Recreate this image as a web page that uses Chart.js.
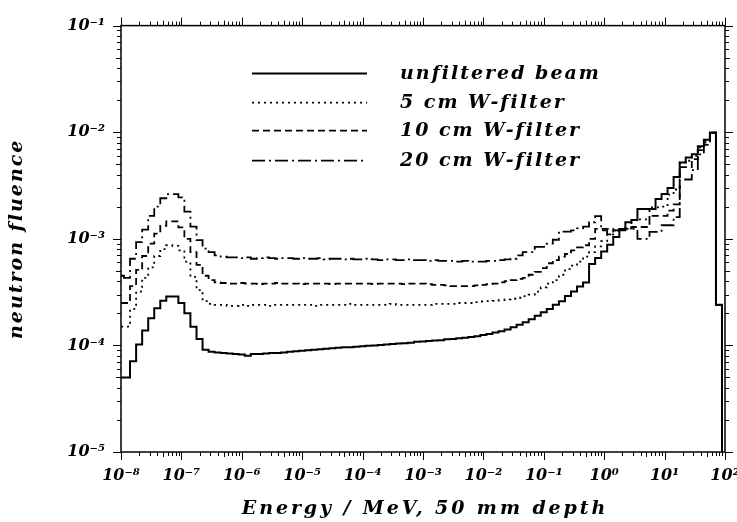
<!DOCTYPE html>
<html>
<head>
<meta charset="utf-8">
<script src="https://cdn.jsdelivr.net/npm/chart.js@4.4.1/dist/chart.umd.min.js"></script>
<style>
  html, body { margin: 0; padding: 0; background: #fff; }
  #wrap { width: 737px; height: 522px; }
</style>
</head>
<body>
<div id="wrap"><canvas id="fluence"></canvas></div>
<script>
// bin edges: 1e-8, then 10 edges per decade (mantissa x 10^d), then 1e2
var binMantissa = [1.12, 1.41, 1.78, 2.24, 2.82, 3.55, 4.47, 5.62, 7.08, 8.91];
var binDecades = [-8, -7, -6, -5, -4, -3, -2, -1, 0, 1];
var firstEdge = 1e-8;
var lastEdge = 1e2;

// decade tick labels
var xDecades = [-8, -7, -6, -5, -4, -3, -2, -1, 0, 1, 2];
var yDecades = [-5, -4, -3, -2, -1];

var seriesLabels = ['unfiltered beam', '5 cm W-filter', '10 cm W-filter', '20 cm W-filter'];
var xTitle = 'Energy / MeV, 50 mm depth';
var yTitle = 'neutron fluence';

// fluence per bin (101 bins)
var unfiltered = [
  5.0e-5, 5.0e-5, 7.1e-5, 1.02e-4, 1.38e-4, 1.8e-4, 2.23e-4, 2.63e-4, 2.87e-4, 2.87e-4,
  2.5e-4, 2.0e-4, 1.5e-4, 1.15e-4, 9.1e-5, 8.7e-5, 8.6e-5, 8.5e-5, 8.4e-5, 8.3e-5,
  8.2e-5, 8.0e-5, 8.3e-5, 8.3e-5, 8.4e-5, 8.5e-5, 8.5e-5, 8.6e-5, 8.7e-5, 8.8e-5,
  8.9e-5, 9.0e-5, 9.1e-5, 9.2e-5, 9.3e-5, 9.4e-5, 9.5e-5, 9.6e-5, 9.6e-5, 9.7e-5,
  9.8e-5, 9.9e-5, 1.0e-4, 1.01e-4, 1.02e-4, 1.03e-4, 1.04e-4, 1.05e-4, 1.06e-4, 1.08e-4,
  1.09e-4, 1.1e-4, 1.11e-4, 1.12e-4, 1.14e-4, 1.15e-4, 1.17e-4, 1.18e-4, 1.2e-4, 1.22e-4,
  1.25e-4, 1.28e-4, 1.32e-4, 1.36e-4, 1.41e-4, 1.48e-4, 1.56e-4, 1.65e-4, 1.76e-4, 1.9e-4,
  2.05e-4, 2.2e-4, 2.4e-4, 2.6e-4, 2.9e-4, 3.2e-4, 3.56e-4, 3.9e-4, 5.8e-4, 6.6e-4,
  7.6e-4, 8.8e-4, 1.04e-3, 1.2e-3, 1.43e-3, 1.5e-3, 1.9e-3, 1.9e-3, 1.9e-3, 2.36e-3,
  2.63e-3, 3.0e-3, 3.8e-3, 5.2e-3, 5.8e-3, 6.2e-3, 7.4e-3, 8.5e-3, 9.9e-3, 2.4e-4,
  1e-6
];
var filter5 = [
  1.5e-4, 1.5e-4, 2.2e-4, 3.2e-4, 4.3e-4, 5.4e-4, 6.9e-4, 8.0e-4, 8.7e-4, 8.6e-4,
  7.8e-4, 6.1e-4, 4.4e-4, 3.3e-4, 2.6e-4, 2.45e-4, 2.4e-4, 2.4e-4, 2.35e-4, 2.35e-4,
  2.4e-4, 2.35e-4, 2.4e-4, 2.4e-4, 2.4e-4, 2.35e-4, 2.4e-4, 2.4e-4, 2.4e-4, 2.4e-4,
  2.4e-4, 2.4e-4, 2.35e-4, 2.4e-4, 2.4e-4, 2.4e-4, 2.4e-4, 2.4e-4, 2.45e-4, 2.4e-4,
  2.4e-4, 2.4e-4, 2.4e-4, 2.4e-4, 2.4e-4, 2.45e-4, 2.4e-4, 2.4e-4, 2.4e-4, 2.4e-4,
  2.4e-4, 2.4e-4, 2.45e-4, 2.45e-4, 2.45e-4, 2.45e-4, 2.5e-4, 2.5e-4, 2.5e-4, 2.55e-4,
  2.58e-4, 2.6e-4, 2.62e-4, 2.66e-4, 2.7e-4, 2.74e-4, 2.8e-4, 2.9e-4, 3.0e-4, 3.2e-4,
  3.5e-4, 3.8e-4, 4.1e-4, 4.6e-4, 5.2e-4, 5.6e-4, 6.1e-4, 6.8e-4, 7.5e-4, 8.5e-4,
  9.5e-4, 1.1e-3, 1.2e-3, 1.23e-3, 1.25e-3, 1.5e-3, 1.52e-3, 1.52e-3, 1.97e-3, 1.97e-3,
  2.0e-3, 2.6e-3, 2.9e-3, 5.2e-3, 5.4e-3, 6.0e-3, 7.2e-3, 8.3e-3, 9.9e-3, 2.4e-4,
  1e-6
];
var filter10 = [
  2.5e-4, 2.5e-4, 3.6e-4, 5.1e-4, 6.9e-4, 9.0e-4, 1.12e-3, 1.32e-3, 1.46e-3, 1.46e-3,
  1.28e-3, 1.0e-3, 7.5e-4, 5.7e-4, 4.5e-4, 4.1e-4, 3.9e-4, 3.85e-4, 3.8e-4, 3.8e-4,
  3.85e-4, 3.8e-4, 3.8e-4, 3.75e-4, 3.8e-4, 3.8e-4, 3.85e-4, 3.8e-4, 3.8e-4, 3.8e-4,
  3.75e-4, 3.8e-4, 3.8e-4, 3.8e-4, 3.8e-4, 3.75e-4, 3.8e-4, 3.8e-4, 3.8e-4, 3.8e-4,
  3.8e-4, 3.8e-4, 3.75e-4, 3.8e-4, 3.8e-4, 3.8e-4, 3.8e-4, 3.75e-4, 3.8e-4, 3.8e-4,
  3.8e-4, 3.75e-4, 3.7e-4, 3.7e-4, 3.65e-4, 3.6e-4, 3.6e-4, 3.6e-4, 3.6e-4, 3.65e-4,
  3.7e-4, 3.75e-4, 3.8e-4, 3.9e-4, 4.0e-4, 4.1e-4, 4.2e-4, 4.3e-4, 4.6e-4, 4.9e-4,
  5.3e-4, 5.9e-4, 6.3e-4, 6.8e-4, 7.2e-4, 7.8e-4, 8.3e-4, 8.7e-4, 1.0e-3, 1.24e-3,
  1.24e-3, 1.24e-3, 1.2e-3, 1.23e-3, 1.25e-3, 1.29e-3, 1.29e-3, 1.29e-3, 1.64e-3, 1.64e-3,
  1.64e-3, 1.84e-3, 2.1e-3, 4.7e-3, 4.7e-3, 5.6e-3, 6.8e-3, 8.0e-3, 9.9e-3, 2.4e-4,
  1e-6
];
var filter20 = [
  4.5e-4, 4.3e-4, 6.5e-4, 9.3e-4, 1.22e-3, 1.64e-3, 2.0e-3, 2.4e-3, 2.63e-3, 2.63e-3,
  2.45e-3, 1.8e-3, 1.3e-3, 9.7e-4, 8.1e-4, 7.5e-4, 7.0e-4, 6.8e-4, 6.7e-4, 6.7e-4,
  6.6e-4, 6.7e-4, 6.5e-4, 6.6e-4, 6.7e-4, 6.6e-4, 6.5e-4, 6.6e-4, 6.6e-4, 6.5e-4,
  6.6e-4, 6.5e-4, 6.5e-4, 6.6e-4, 6.4e-4, 6.5e-4, 6.5e-4, 6.4e-4, 6.5e-4, 6.4e-4,
  6.4e-4, 6.5e-4, 6.4e-4, 6.3e-4, 6.4e-4, 6.4e-4, 6.3e-4, 6.3e-4, 6.4e-4, 6.3e-4,
  6.3e-4, 6.2e-4, 6.3e-4, 6.2e-4, 6.2e-4, 6.2e-4, 6.1e-4, 6.2e-4, 6.1e-4, 6.1e-4,
  6.1e-4, 6.2e-4, 6.2e-4, 6.3e-4, 6.4e-4, 6.5e-4, 7.0e-4, 7.5e-4, 7.5e-4, 8.4e-4,
  8.4e-4, 9.0e-4, 9.8e-4, 1.17e-3, 1.17e-3, 1.2e-3, 1.25e-3, 1.3e-3, 1.43e-3, 1.63e-3,
  1.2e-3, 1.1e-3, 1.2e-3, 1.24e-3, 1.24e-3, 1.24e-3, 1.0e-3, 1.0e-3, 1.16e-3, 1.16e-3,
  1.34e-3, 1.34e-3, 1.6e-3, 3.6e-3, 3.6e-3, 4.4e-3, 6.2e-3, 7.6e-3, 9.9e-3, 2.4e-4,
  1e-6
];

var fontFamily = '"DejaVu Serif", serif';
var textFont = 'italic bold 19px ' + fontFamily;

// build the list of bin edges
var binEdges = [firstEdge];
binDecades.forEach(function(d) {
  binMantissa.forEach(function(m) {
    binEdges.push(m * Math.pow(10, d));
  });
});
binEdges.push(lastEdge);

// histogram as stepped line: each value held from its left edge to the next edge
function toSteps(values) {
  var pts = [];
  for (var i = 0; i < values.length; i++) {
    pts.push({x: binEdges[i], y: values[i]});
  }
  pts.push({x: binEdges[values.length], y: values[values.length - 1]});
  return pts;
}

var supDigits = {'-': '\u207B', '0': '\u2070', '1': '\u00B9', '2': '\u00B2', '3': '\u00B3',
  '4': '\u2074', '5': '\u2075', '6': '\u2076', '7': '\u2077', '8': '\u2078', '9': '\u2079'};
function powerLabel(v) {
  var e = String(Math.round(Math.log10(v)));
  var s = '';
  for (var i = 0; i < e.length; i++) s += supDigits[e[i]];
  return '10' + s;
}

var dashes = [[], [2, 4], [7, 4], [13, 4, 2, 4]];
var widths = [2, 1.8, 1.8, 1.8];
var allSeries = [unfiltered, filter5, filter10, filter20];

var datasets = allSeries.map(function(vals, i) {
  return {
    label: seriesLabels[i],
    data: toSteps(vals),
    borderColor: '#000',
    borderWidth: widths[i],
    borderDash: dashes[i],
    pointRadius: 0,
    fill: false,
    stepped: true,
    tension: 0
  };
});

// frame, log ticks, axis titles and the legend inside the plot
var framePlugin = {
  id: 'framePlugin',
  afterDraw: function(chart) {
    var ctx = chart.ctx, a = chart.chartArea;
    var xs = chart.scales.x, ys = chart.scales.y;
    ctx.save();
    ctx.strokeStyle = '#000';
    ctx.lineWidth = 1.5;
    ctx.strokeRect(a.left, a.top, a.right - a.left, a.bottom - a.top);

    ctx.lineWidth = 1;
    ctx.beginPath();
    xDecades.forEach(function(d) {
      for (var m = 1; m <= 9; m++) {
        var v = m * Math.pow(10, d);
        if (v > xs.max * 1.001) break;
        var px = Math.round(xs.getPixelForValue(v)) + 0.5;
        var len = m === 1 ? 8 : (m === 5 ? 5 : 4);
        ctx.moveTo(px, a.bottom); ctx.lineTo(px, a.bottom + len);
        ctx.moveTo(px, a.top); ctx.lineTo(px, a.top - len);
      }
    });
    yDecades.forEach(function(d) {
      for (var m = 1; m <= 9; m++) {
        var v = m * Math.pow(10, d);
        if (v > ys.max * 1.001) break;
        var py = Math.round(ys.getPixelForValue(v)) + 0.5;
        var len = m === 1 ? 8 : (m === 5 ? 5 : 4);
        ctx.moveTo(a.left, py); ctx.lineTo(a.left - len, py);
        ctx.moveTo(a.right, py); ctx.lineTo(a.right + len, py);
      }
    });
    ctx.stroke();

    ctx.fillStyle = '#000';
    ctx.font = textFont;

    // axis titles
    ctx.letterSpacing = '2.9px';
    ctx.textAlign = 'center';
    ctx.textBaseline = 'alphabetic';
    ctx.fillText(xTitle, (a.left + a.right) / 2 + 2, 514);
    ctx.letterSpacing = '2px';
    ctx.save();
    ctx.translate(22, (a.top + a.bottom) / 2);
    ctx.rotate(-Math.PI / 2);
    ctx.fillText(yTitle, 0, 0);
    ctx.restore();

    // legend
    var lx0 = a.left + 131, lx1 = a.left + 246, tx = a.left + 279;
    var rows = [48, 77, 105, 135];
    ctx.textBaseline = 'middle';
    ctx.textAlign = 'left';
    chart.data.datasets.forEach(function(ds, i) {
      var y = a.top + rows[i];
      ctx.beginPath();
      ctx.lineWidth = ds.borderWidth;
      ctx.setLineDash(ds.borderDash);
      ctx.moveTo(lx0, y);
      ctx.lineTo(lx1, y);
      ctx.stroke();
      ctx.setLineDash([]);
      ctx.fillText(ds.label, tx, y);
    });
    ctx.restore();
  }
};

new Chart(document.getElementById('fluence'), {
  type: 'line',
  data: { datasets: datasets },
  options: {
    responsive: true,
    maintainAspectRatio: false,
    animation: false,
    events: [],
    layout: { padding: { top: 22, right: 12, left: 0, bottom: 0 } },
    plugins: {
      legend: { display: false },
      tooltip: { enabled: false }
    },
    scales: {
      x: {
        type: 'logarithmic',
        min: 1e-8,
        max: 1e2,
        afterBuildTicks: function(s) {
          s.ticks = xDecades.map(function(d) { return {value: Math.pow(10, d)}; });
        },
        afterFit: function(s) {
          s.height = 70;
          s.paddingLeft = 0;
          s.paddingRight = 0;
        },
        grid: { display: false, drawTicks: false },
        border: { display: false },
        ticks: {
          autoSkip: false,
          maxRotation: 0,
          padding: 14,
          color: '#000',
          font: { family: fontFamily, size: 16, style: 'italic', weight: 'bold' },
          callback: function(v) { return powerLabel(v); }
        }
      },
      y: {
        type: 'logarithmic',
        min: 1e-5,
        max: 1e-1,
        afterBuildTicks: function(s) {
          s.ticks = yDecades.map(function(d) { return {value: Math.pow(10, d)}; });
        },
        afterFit: function(s) { s.width = 121; },
        grid: { display: false, drawTicks: false },
        border: { display: false },
        ticks: {
          autoSkip: false,
          padding: 16,
          color: '#000',
          font: { family: fontFamily, size: 16, style: 'italic', weight: 'bold' },
          callback: function(v) { return powerLabel(v); }
        }
      }
    }
  },
  plugins: [framePlugin]
});
</script>
</body>
</html>
